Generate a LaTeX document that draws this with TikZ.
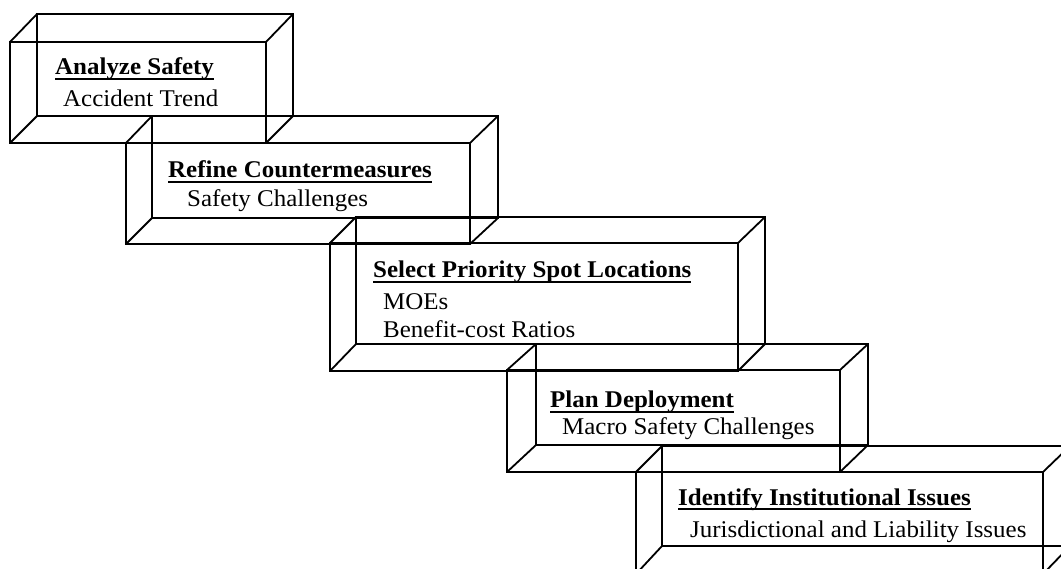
\documentclass[tikz,border=0pt]{standalone}
\usepackage{fontspec}
\setmainfont{Liberation Serif}[FakeStretch=1.04]
\newcommand\headrule[1]{\setbox0\hbox{#1}\rlap{\rule[-4.6pt]{\wd0}{1.5pt}}\box0}
% open wire-frame slab: front rectangle, back rectangle, and the four depth edges
\newcommand\slab[8]{%
  \draw[edge] (#1,#2) rectangle (#3,#4);
  \draw[edge] (#5,#6) rectangle (#7,#8);
  \draw[edge] (#1,#2) -- (#5,#6);
  \draw[edge] (#3,#2) -- (#7,#6);
  \draw[edge] (#1,#4) -- (#5,#8);
  \draw[edge] (#3,#4) -- (#7,#8);
}
\tikzset{
  edge/.style={line width=1.8pt, line join=miter},
  head/.style={anchor=base west, inner sep=0pt, font=\fontsize{24}{28}\selectfont\bfseries},
  item/.style={anchor=base west, inner sep=0pt, font=\fontsize{24}{28}\selectfont},
}
\begin{document}
\begin{tikzpicture}[x=1pt, y=-1pt]
\useasboundingbox (0,0) rectangle (1061,569);
\clip (0,0) rectangle (1061,569);

\slab{10}{42}{266}{143}{37}{14}{293}{116}
\slab{126}{143}{470}{244}{152}{116}{498}{218}
\slab{330}{243}{738}{371}{356}{217}{765}{344}
\slab{507}{370}{840}{472}{536}{344}{868}{445}
\slab{636}{472}{1043}{574}{662}{446}{1070}{546}

\node[head] (h1) at (55,75) {\headrule{Analyze Safety}};
\node[item] (s1) at (63,107) {Accident Trend};

\node[head] (h2) at (168,178) {\headrule{Refine Countermeasures}};
\node[item] (s2) at (187,207) {Safety Challenges};

\node[head] (h3) at (373,278) {\headrule{Select Priority Spot Locations}};
\node[item] (s3a) at (383,310) {MOEs};
\node[item] (s3b) at (383,338) {Benefit-cost Ratios};

\node[head] (h4) at (550,408) {\headrule{Plan Deployment}};
\node[item] (s4) at (562,435) {Macro Safety Challenges};

\node[head] (h5) at (678,505) {\headrule{Identify Institutional Issues}};
\node[item] (s5) at (690,537) {Jurisdictional and Liability Issues};
\end{tikzpicture}
\end{document}
